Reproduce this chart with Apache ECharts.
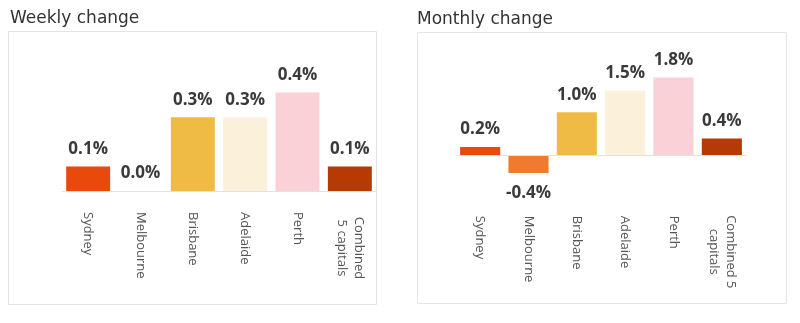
<!DOCTYPE html>
<html>
<head>
<meta charset="utf-8">
<script src="https://cdn.jsdelivr.net/npm/echarts@6/dist/echarts.min.js"></script>
<style>
html,body{margin:0;padding:0;background:#fff;}
#main{width:800px;height:323px;}
</style>
</head>
<body>
<div id="main"></div>
<script>
const categories = ['Sydney', 'Melbourne', 'Brisbane', 'Adelaide', 'Perth', 'Combined 5 capitals'];
const weeklyValues = [0.1, 0.0, 0.3, 0.3, 0.4, 0.1];
const monthlyValues = [0.2, -0.4, 1.0, 1.5, 1.8, 0.4];
const barColors = ['#E84A0C', '#F07A2E', '#F0BB45', '#FBF0D9', '#F9D1D7', '#B53A06'];
const titles = ['Weekly change', 'Monthly change'];

const FONT = '"Open Sans", sans-serif';
const TFONT = '"DejaVu Sans", sans-serif';
const chart = echarts.init(document.getElementById('main'), null, {renderer: 'canvas'});

function makeData(vals) {
  return vals.map((v, i) => {
    const d = {value: v, itemStyle: {color: barColors[i]}};
    if (v < 0) d.label = {position: 'bottom', distance: 12};
    return d;
  });
}

function catFormatter(combinedSplit) {
  return function (v) {
    if (v === 'Combined 5 capitals') {
      return '{c|' + combinedSplit[0] + '}\n{c|' + combinedSplit[1] + '}';
    }
    return v;
  };
}

const richC = {c: {width: 72, align: 'center', fontSize: 13, color: '#555', fontFamily: FONT, lineHeight: 17}};

function xAxisCfg(gi, split) {
  return {
    type: 'category', gridIndex: gi, data: categories,
    axisLine: {show: false}, axisTick: {show: false},
    axisLabel: {
      rotate: -90, margin: 21, interval: 0,
      fontSize: 13, color: '#555', fontFamily: FONT, lineHeight: 17,
      formatter: catFormatter(split), rich: richC
    }
  };
}

function yAxisCfg(gi, min, max) {
  return {type: 'value', gridIndex: gi, min: min, max: max, show: false,
    axisLine: {show: false}, splitLine: {show: false}};
}

function seriesCfg(gi, vals, bw) {
  return {
    type: 'bar', xAxisIndex: gi, yAxisIndex: gi, data: makeData(vals),
    barCategoryGap: bw,
    label: {
      show: true, position: 'top', distance: 9,
      fontSize: 17, fontWeight: 'bold', color: '#3a3a3a', fontFamily: FONT,
      formatter: p => p.value.toFixed(1) + '%'
    },
    markLine: {
      silent: true, symbol: ['none', 'none'], label: {show: false},
      lineStyle: {color: '#e2e2e2', width: 1, type: 'solid'},
      data: [{yAxis: 0}]
    }
  };
}

chart.setOption({
  animation: false,
  title: [
    {text: titles[0], left: 5, top: 5, textStyle: {fontSize: 17, fontWeight: 'normal', color: '#333', fontFamily: TFONT}},
    {text: titles[1], left: 412, top: 6, textStyle: {fontSize: 17, fontWeight: 'normal', color: '#333', fontFamily: TFONT}}
  ],
  graphic: [
    {type: 'rect', shape: {x: 8.5, y: 31.5, width: 368, height: 273}, style: {fill: 'none', stroke: '#e4e4e4', lineWidth: 1}, z: -1},
    {type: 'rect', shape: {x: 417.5, y: 32.5, width: 369, height: 271}, style: {fill: 'none', stroke: '#e4e4e4', lineWidth: 1}, z: -1}
  ],
  grid: [
    {left: 62, width: 314, top: 68, height: 123},
    {left: 456, width: 290, top: 64.6, height: 130.2}
  ],
  xAxis: [xAxisCfg(0, ['Combined', '5 capitals']), xAxisCfg(1, ['Combined 5', 'capitals'])],
  yAxis: [yAxisCfg(0, 0, 0.5), yAxisCfg(1, -0.9, 2.1)],
  series: [seriesCfg(0, weeklyValues, '16%'), seriesCfg(1, monthlyValues, '17%')]
});
</script>
</body>
</html>
